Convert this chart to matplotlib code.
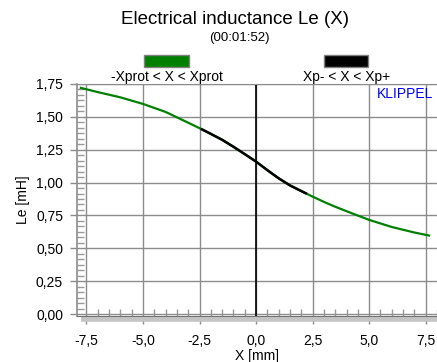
import numpy as np
import matplotlib
matplotlib.use("Agg")
import matplotlib.pyplot as plt
from matplotlib.ticker import MultipleLocator, FuncFormatter
from matplotlib.patches import Rectangle

plt.rcParams['font.family'] = ['Liberation Sans', 'DejaVu Sans']
plt.rcParams['font.size'] = 10

# displacement X [mm] and inductance Le [mH]
x_mm = [-7.75, -7.0, -6.0, -5.0, -4.0, -3.0, -2.4, -2.0, -1.5, -1.0, -0.5, 0.0,
        0.5, 1.0, 1.5, 2.2, 2.5, 3.0, 3.5, 4.0, 5.0, 6.0, 7.0, 7.65]
le_mH = [1.72, 1.688, 1.648, 1.598, 1.537, 1.455, 1.405, 1.37, 1.325, 1.272, 1.216, 1.159,
         1.094, 1.032, 0.978, 0.918, 0.893, 0.853, 0.816, 0.782, 0.716, 0.662, 0.62, 0.597]

# limits of the two ranges
xp = (-2.4, 2.2)

green = '#008000'
grid_col = '#8c8c8c'

x_arr = np.array(x_mm)
le_arr = np.array(le_mH)
inner = (x_arr >= xp[0]) & (x_arr <= xp[1])

fig = plt.figure(figsize=(4.37, 3.62), dpi=100)
ax = fig.add_axes([0.1762, 0.1271, 0.8238, 0.641])

ax.plot(x_arr, le_arr, color=green, lw=1.6, zorder=3)
ax.plot(x_arr[inner], le_arr[inner], color='black', lw=1.8, zorder=4)
ax.axvline(0, color='black', lw=1.2, zorder=2)

ax.set_xlim(-7.92, 8.0)
ax.set_ylim(-0.015, 1.75)

ax.xaxis.set_major_locator(MultipleLocator(2.5))
ax.xaxis.set_minor_locator(MultipleLocator(0.5))
ax.yaxis.set_major_locator(MultipleLocator(0.25))
ax.yaxis.set_minor_locator(MultipleLocator(0.25 / 6))

ax.xaxis.set_major_formatter(FuncFormatter(lambda v, p: f"{v:.1f}".replace('.', ',')))
ax.yaxis.set_major_formatter(FuncFormatter(lambda v, p: f"{v:.2f}".replace('.', ',')))

ax.grid(True, which='major', color=grid_col, lw=1.0)
ax.set_axisbelow(True)

ax.spines['right'].set_visible(False)
ax.spines['top'].set_color(grid_col)
ax.spines['left'].set_color(grid_col)
ax.spines['bottom'].set_color('#707070')
ax.spines['left'].set_linewidth(1.2)

ax.tick_params(axis='y', which='major', direction='out', length=5, width=1,
               color=grid_col, pad=5, labelsize=10)
ax.tick_params(axis='x', which='major', direction='out', length=6, width=1,
               color=grid_col, pad=7, labelsize=10)
ax.tick_params(which='minor', direction='in', length=5, width=1, color='#999999')

# grey shadow under the x axis
ax.plot([0.012, 1.0], [-0.012, -0.012], transform=ax.transAxes, color='#c4c4c4',
        lw=4, clip_on=False, solid_capstyle='butt', zorder=1)

ax.set_xlabel('X [mm]', fontsize=10, labelpad=1)
ax.set_ylabel('Le [mH]', fontsize=10, labelpad=4)

ax.text(0.99, 0.985, 'KLIPPEL', transform=ax.transAxes, color='#0000ff',
        ha='right', va='top', fontsize=10)

fig.text(0.538, 0.945, 'Electrical inductance Le (X)', ha='center', va='center', fontsize=13.5)
fig.text(0.547, 0.895, '(00:01:52)', ha='center', va='center', fontsize=9.5)

# legend: colour box above its text
fig.add_artist(Rectangle((0.3295, 0.815), 0.103, 0.033, transform=fig.transFigure,
                         facecolor=green, edgecolor='#808080', lw=1))
fig.add_artist(Rectangle((0.7414, 0.815), 0.1007, 0.033, transform=fig.transFigure,
                         facecolor='black', edgecolor='#808080', lw=1))
fig.text(0.382, 0.788, '-Xprot < X < Xprot', ha='center', va='center', fontsize=10)
fig.text(0.792, 0.788, 'Xp- < X < Xp+', ha='center', va='center', fontsize=10)

fig.savefig('out.png', dpi=100)
